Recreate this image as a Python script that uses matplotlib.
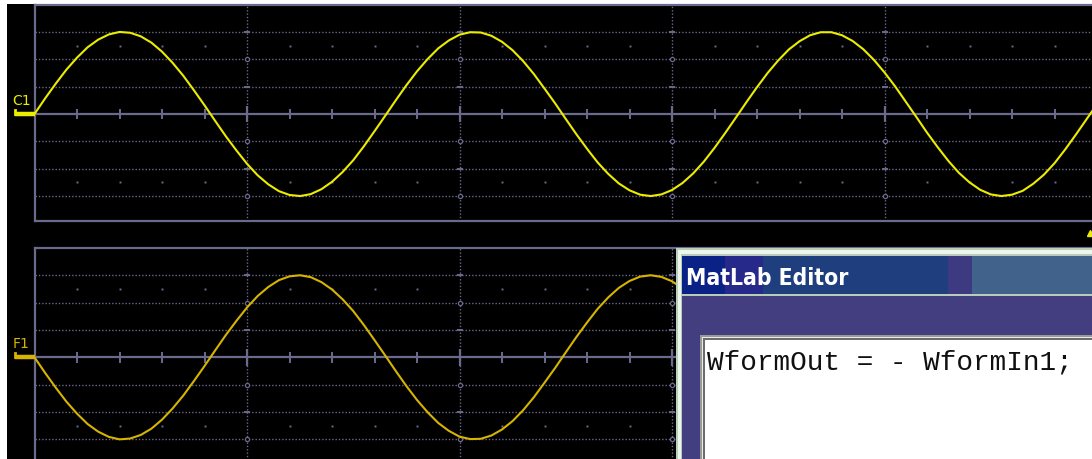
"""
scope screen: C1 sine and F1 = -C1, with the MatLab editor box on top
"""
import numpy as np
import matplotlib
matplotlib.use("Agg")
from matplotlib import pyplot as plt
from matplotlib.patches import Rectangle

# sample times, in horizontal divisions from the left edge of the grid
t_div = [round(0.05 * i, 2) for i in range(101)]

# C1 trace (vertical divisions)
c1_div = [0.00, 0.57, 1.11, 1.62, 2.06, 2.44, 2.72, 2.91, 3.00, 2.97,
          2.84, 2.61, 2.28, 1.87, 1.40, 0.87, 0.32, -0.25, -0.81, -1.33,
          -1.82, -2.24, -2.57, -2.82, -2.96, -3.00, -2.93, -2.75, -2.48, -2.12,
          -1.69, -1.18, -0.63, -0.07, 0.50, 1.05, 1.56, 2.01, 2.40, 2.69,
          2.90, 2.99, 2.98, 2.86, 2.64, 2.33, 1.93, 1.46, 0.93, 0.39,
          -0.18, -0.74, -1.27, -1.77, -2.19, -2.54, -2.79, -2.95, -3.00, -2.94,
          -2.78, -2.52, -2.17, -1.74, -1.24, -0.70, -0.14, 0.43, 0.98, 1.50,
          1.96, 2.36, 2.66, 2.88, 2.99, 2.99, 2.88, 2.67, 2.37, 1.98,
          1.52, 1.01, 0.45, -0.11, -0.68, -1.21, -1.71, -2.15, -2.50, -2.77,
          -2.94, -3.00, -2.95, -2.81, -2.55, -2.22, -1.80, -1.30, -0.76, -0.20,
          0.36]

# F1 trace (visible part, the rest is under the editor window)
f1_t = t_div[:65]
f1_div = [0.00, -0.57, -1.11, -1.62, -2.06, -2.44, -2.72, -2.91, -3.00, -2.97,
          -2.84, -2.61, -2.28, -1.87, -1.40, -0.87, -0.32, 0.25, 0.81, 1.33,
          1.82, 2.24, 2.57, 2.82, 2.96, 3.00, 2.93, 2.75, 2.48, 2.12,
          1.69, 1.18, 0.63, 0.07, -0.50, -1.05, -1.56, -2.01, -2.40, -2.69,
          -2.90, -2.99, -2.98, -2.86, -2.64, -2.33, -1.93, -1.46, -0.93, -0.39,
          0.18, 0.74, 1.27, 1.77, 2.19, 2.54, 2.79, 2.95, 3.00, 2.94,
          2.78, 2.52, 2.17, 1.74, 1.24]

trace_labels = ["C1", "F1"]
editor_title = "MatLab Editor"
editor_code = "WformOut = - WformIn1;"

W, H = 1092, 460
DX, DY = 212.5, 27.35          # pixels per division
GRID = "#6a6a8c"
YEL = "#ecec00"
GOLD = "#d6b400"


def px_box(x0, y0, x1, y1):
    return [x0 / W, 1 - y1 / H, (x1 - x0) / W, (y1 - y0) / H]


fig = plt.figure(figsize=(W / 100, H / 100), dpi=100)
fig.patch.set_facecolor("white")
fig.patches.append(Rectangle((7 / W, 0), 1, 1 - 5 / H, transform=fig.transFigure,
                             facecolor="black", edgecolor="none", zorder=-5))


def scope_panel(box, yc, label, col, t, v, show_bottom):
    x0, y0, x1, y1 = box
    ax = fig.add_axes(px_box(*box))
    ax.set_facecolor("black")
    ax.set_xlim(0, (x1 - x0) / DX)
    ax.set_ylim(-(y1 - yc) / DY, (yc - y0) / DY)
    for s in ["left", "top", "bottom", "right"]:
        ax.spines[s].set_color(GRID)
        ax.spines[s].set_linewidth(1.6)
    ax.spines["right"].set_visible(False)
    ax.spines["bottom"].set_visible(show_bottom)
    ax.set_xticks([])
    ax.set_yticks([])

    # graticule
    for yy in [-3, -2, -1, 1, 2, 3]:
        ax.axhline(yy, color=GRID, lw=1.0, ls=(0, (1, 1.4)), zorder=1)
    for xx in [1, 2, 3, 4, 5]:
        ax.axvline(xx, color=GRID, lw=1.0, ls=(0, (1, 1.4)), zorder=1)
    ax.axhline(0, color=GRID, lw=1.6, zorder=1)
    minor = [x for x in np.arange(0.2, 5.01, 0.2) if abs(x - round(x)) > 0.05]
    ax.vlines(minor, -0.2, 0.2, color=GRID, lw=1.4, zorder=1)
    ax.vlines([1, 2, 3, 4, 5], -0.3, 0.3, color=GRID, lw=1.6, zorder=1)
    for yy in [2.5, -2.5]:
        ax.plot(minor, [yy] * len(minor), "s", color=GRID, ms=1.4, mew=0, zorder=1)
    for xx in [1, 2, 3, 4, 5]:
        ax.plot([xx] * 3, [3, 1, -2], "_", color=GRID, ms=5, mew=1.4, zorder=1)
        ax.plot([xx] * 3, [2, -1, -3], "o", mfc="black", mec=GRID, ms=3, mew=0.9, zorder=1)

    # trace
    ax.plot(t, v, color=col, lw=1.5, zorder=3, solid_joinstyle="round")

    # channel marker on the left
    ax.plot([-20 / DX, 0], [0, 0], color=col, lw=3.2, clip_on=False,
            solid_capstyle="butt", zorder=4)
    ax.plot([-20 / DX, -20 / DX], [0, 4 / DY], color=col, lw=2, clip_on=False, zorder=4)
    ax.text(-22 / DX, 10 / DY, label, color=col, fontsize=10, ha="left",
            va="baseline", clip_on=False)
    return ax


top = scope_panel((34.5, 6, 1100, 222), 115, trace_labels[0], YEL,
                  t_div, c1_div, True)
bot = scope_panel((34.5, 249, 1100, 470), 358.3, trace_labels[1], GOLD,
                  f1_t, f1_div, False)
# small trigger arrow at the right edge
top.plot([(1090 - 34.5) / DX], [-(234 - 115) / DY], "^", color=YEL, ms=5,
         clip_on=False, zorder=5)

# editor window (pixel coordinates inside the window)
ed = fig.add_axes(px_box(676, 249, 1092, 460))
ed.set_xlim(0, 416)
ed.set_ylim(211, 0)
ed.axis("off")


def box(x0, y0, x1, y1, c):
    ed.add_patch(Rectangle((x0, y0), x1 - x0, y1 - y0, facecolor=c,
                           edgecolor="none", clip_on=False))


box(0, 0, 416, 211, "#b8d0b8")
box(2, 2, 416, 211, "#eef4ee")
box(5, 6, 416, 211, "#b8ccb8")
title_bands = [(6, 49, "#0a2286"), (49, 87, "#26288a"), (87, 272, "#1f3e7e"),
               (272, 296, "#3d3a82"), (296, 416, "#41628a")]
for a, b, c in title_bands:
    box(a, 8, b, 46, c)
box(6, 48, 416, 211, "#433e80")
box(24, 87, 416, 211, "#9a9a9a")
box(26, 89, 416, 211, "#e4ece4")
box(27, 90, 416, 211, "#6c6c6c")
box(29, 92, 416, 211, "white")

ed.text(10, 36, editor_title, color="white", fontsize=16.4, fontweight="bold",
        family="DejaVu Sans", fontstretch="condensed", va="baseline", ha="left")
ed.text(31, 121, editor_code, color="#101010", fontsize=20,
        family="Liberation Mono", va="baseline", ha="left")

fig.savefig("out.png", dpi=100)
